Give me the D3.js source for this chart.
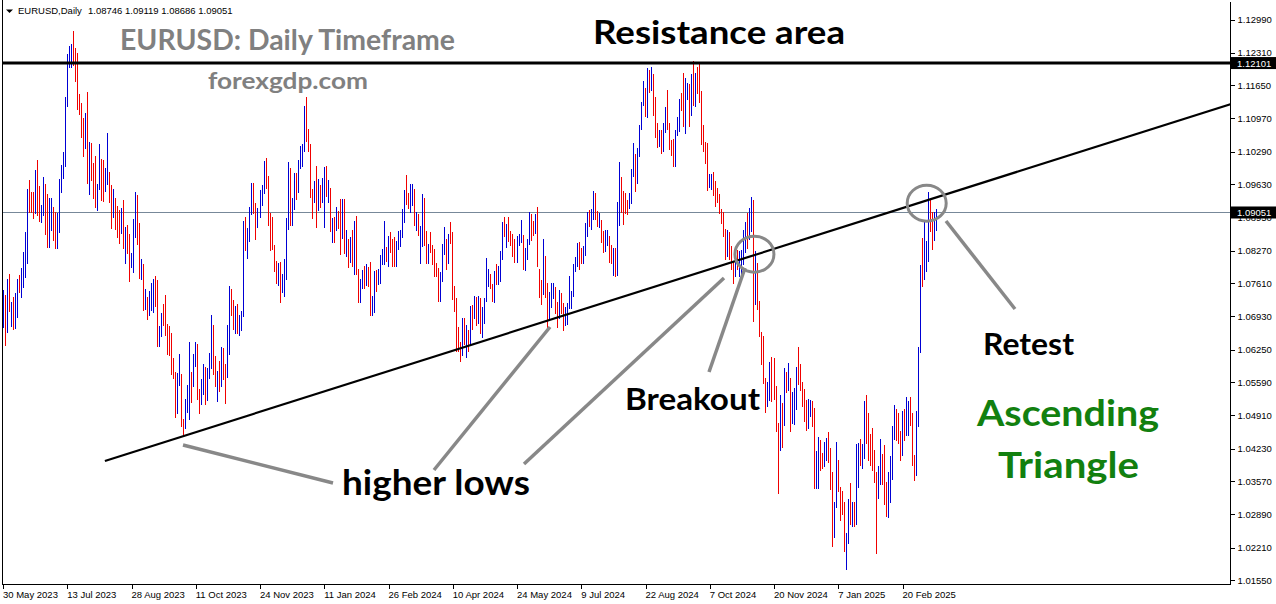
<!DOCTYPE html>
<html lang="en">

<head>
  <meta charset="utf-8">
  <title>EURUSD Daily | Ascending Triangle</title>
  <script src="https://d3js.org/d3.v7.min.js"></script>
  <style>
    body {
      margin: 0;
      background: #fff;
    }

    svg {
      display: block;
    }

    .axis text {
      font-family: "Liberation Sans", Arial, sans-serif;
      font-size: 9.5px;
      fill: #000;
    }

    .axis line {
      stroke: #000;
      shape-rendering: crispEdges;
    }

    .note {
      font-family: Lato, "Open Sans", sans-serif;
      font-weight: bold;
    }
  </style>
</head>

<body>
  <script>
    var w = 1276;
    var h = 604;

    // daily bars, one per trading day, first bar = 30 May 2023, last = 17 Mar 2025
    var highs = [
      // May/Jun 2023
      1.0747, 1.0737, 1.0770, 1.0780, 1.0722, 1.0733, 1.0741, 1.0770, 1.0778, 1.0792, 1.0825, 1.0866, 1.0953, 1.0971, 1.0947, 1.0947, 1.0992, 1.1012, 1.0959, 1.0920, 1.0977, 1.0963, 1.0943, 1.0935,
      // Jul
      1.0935, 1.0916, 1.0906, 1.0904, 1.0973, 1.1002, 1.1028, 1.1140, 1.1228, 1.1245, 1.1249, 1.1276, 1.1241, 1.1231, 1.1147, 1.1129, 1.1098, 1.1108, 1.1151, 1.1049, 1.1047,
      // Aug
      1.1006, 1.1020, 1.0963, 1.1045, 1.1014, 1.1012, 1.0996, 1.1067, 1.0988, 1.0961, 1.0953, 1.0935, 1.0919, 1.0910, 1.0914, 1.0931, 1.0876, 1.0880, 1.0862, 1.0823, 1.0892, 1.0947, 1.0941,
      // Sep
      1.0884, 1.0810, 1.0800, 1.0749, 1.0733, 1.0745, 1.0761, 1.0769, 1.0775, 1.0768, 1.0674, 1.0699, 1.0718, 1.0737, 1.0677, 1.0673, 1.0659, 1.0609, 1.0580, 1.0577, 1.0617,
      // Oct
      1.0576, 1.0484, 1.0525, 1.0554, 1.0640, 1.0580, 1.0616, 1.0640, 1.0637, 1.0544, 1.0565, 1.0596, 1.0590, 1.0588, 1.0619, 1.0695, 1.0675, 1.0613, 1.0582, 1.0601, 1.0630, 1.0628,
      // Nov
      1.0595, 1.0676, 1.0756, 1.0748, 1.0727, 1.0714, 1.0719, 1.0696, 1.0705, 1.0888, 1.0895, 1.0873, 1.0917, 1.0965, 1.0965, 1.0925, 1.0914, 1.0950, 1.0962, 1.1010, 1.1017, 1.0980,
      // Dec
      1.0904, 1.0896, 1.0838, 1.0806, 1.0801, 1.0805, 1.0780, 1.0810, 1.0894, 1.1009, 1.0995, 1.0935, 1.0985, 1.0985, 1.1012, 1.1040, 1.1045, 1.1123, 1.1140, 1.1075,
      // Jan 2024
      1.1045, 1.0954, 1.0969, 1.0999, 1.0973, 1.0961, 1.0975, 1.0998, 1.0999, 1.0972, 1.0955, 1.0893, 1.0895, 1.0916, 1.0908, 1.0932, 1.0932, 1.0933, 1.0870, 1.0850, 1.0855, 1.0870,
      // Feb
      1.0888, 1.0897, 1.0790, 1.0770, 1.0787, 1.0795, 1.0799, 1.0793, 1.0805, 1.0735, 1.0786, 1.0788, 1.0790, 1.0819, 1.0830, 1.0888, 1.0835, 1.0857, 1.0865, 1.0852, 1.0855,
      // Mar
      1.0846, 1.0868, 1.0870, 1.0912, 1.0951, 1.0981, 1.0945, 1.0963, 1.0963, 1.0953, 1.0906, 1.0902, 1.0877, 1.0942, 1.0935, 1.0867, 1.0841, 1.0865, 1.0838, 1.0830, 1.0803,
      // Apr
      1.0791, 1.0783, 1.0840, 1.0876, 1.0850, 1.0862, 1.0885, 1.0865, 1.0756, 1.0730, 1.0672, 1.0641, 1.0690, 1.0690, 1.0676, 1.0666, 1.0714, 1.0716, 1.0735, 1.0732, 1.0735, 1.0730,
      // May
      1.0713, 1.0730, 1.0812, 1.0790, 1.0780, 1.0760, 1.0785, 1.0800, 1.0795, 1.0826, 1.0886, 1.0895, 1.0882, 1.0895, 1.0868, 1.0861, 1.0852, 1.0858, 1.0862, 1.0889, 1.0860, 1.0832, 1.0852,
      // Jun
      1.0906, 1.0903, 1.0888, 1.0902, 1.0916, 1.0790, 1.0767, 1.0852, 1.0816, 1.0762, 1.0743, 1.0761, 1.0761, 1.0753, 1.0722, 1.0747, 1.0740, 1.0721, 1.0712, 1.0720,
      // Jul
      1.0776, 1.0745, 1.0800, 1.0815, 1.0843, 1.0845, 1.0833, 1.0837, 1.0883, 1.0907, 1.0910, 1.0912, 1.0948, 1.0944, 1.0909, 1.0904, 1.0890, 1.0868, 1.0869, 1.0870, 1.0858, 1.0838, 1.0832,
      // Aug
      1.0832, 1.0926, 1.1009, 1.0977, 1.0949, 1.0944, 1.0930, 1.0944, 1.0994, 1.1047, 1.1025, 1.1037, 1.1084, 1.1130, 1.1174, 1.1160, 1.1201, 1.1195, 1.1202, 1.1188, 1.1140, 1.1087,
      // Sep
      1.1073, 1.1073, 1.1087, 1.1120, 1.1155, 1.1088, 1.1054, 1.1056, 1.1074, 1.1101, 1.1136, 1.1148, 1.1190, 1.1180, 1.1170, 1.1168, 1.1188, 1.1214, 1.1189, 1.1202, 1.1209,
      // Oct
      1.1154, 1.1084, 1.1048, 1.1046, 1.0984, 1.0984, 1.0987, 1.0969, 1.0955, 1.0943, 1.0912, 1.0906, 1.0871, 1.0869, 1.0866, 1.0836, 1.0804, 1.0830, 1.0829, 1.0826, 1.0828, 1.0870, 1.0885,
      // Nov
      1.0905, 1.0914, 1.0937, 1.0931, 1.0826, 1.0802, 1.0725, 1.0661, 1.0652, 1.0568, 1.0560, 1.0600, 1.0610, 1.0608, 1.0550, 1.0475, 1.0532, 1.0516, 1.0587, 1.0580, 1.0597,
      // Dec
      1.0567, 1.0538, 1.0546, 1.0590, 1.0630, 1.0595, 1.0559, 1.0545, 1.0523, 1.0524, 1.0523, 1.0521, 1.0507, 1.0418, 1.0446, 1.0440, 1.0415, 1.0437, 1.0444, 1.0457, 1.0425,
      // Jan 2025
      1.0375, 1.0314, 1.0437, 1.0400, 1.0345, 1.0336, 1.0315, 1.0250, 1.0320, 1.0353, 1.0315, 1.0315, 1.0433, 1.0435, 1.0442, 1.0433, 1.0521, 1.0533, 1.0495, 1.0452, 1.0465, 1.0420,
      // Feb
      1.0375, 1.0388, 1.0442, 1.0412, 1.0431, 1.0356, 1.0375, 1.0409, 1.0470, 1.0513, 1.0505, 1.0495, 1.0460, 1.0500, 1.0505, 1.0528, 1.0520, 1.0528, 1.0496, 1.0410,
      // Mar
      1.0500, 1.0630, 1.0797, 1.0854, 1.0888, 1.0846, 1.0947, 1.0930, 1.0906, 1.0907, 1.0912
    ];

    var lows = [
      1.0671, 1.0635, 1.0662, 1.0704, 1.0673, 1.0667, 1.0669, 1.0692, 1.0743, 1.0733, 1.0754, 1.0774, 1.0802, 1.0906, 1.0906, 1.0894, 1.0904, 1.0900, 1.0888, 1.0886, 1.0900, 1.0862, 1.0835, 1.0835,
      1.0870, 1.0849, 1.0833, 1.0833, 1.0865, 1.0947, 1.0975, 1.0999, 1.1122, 1.1202, 1.1202, 1.1206, 1.1173, 1.1116, 1.1106, 1.1059, 1.1020, 1.1037, 1.0966, 1.0943, 1.0972,
      1.0935, 1.0917, 1.0911, 1.0953, 1.0931, 1.0929, 1.0949, 1.0963, 1.0927, 1.0874, 1.0896, 1.0872, 1.0855, 1.0843, 1.0864, 1.0833, 1.0802, 1.0823, 1.0765, 1.0793, 1.0784, 1.0855, 1.0841,
      1.0771, 1.0769, 1.0706, 1.0708, 1.0688, 1.0696, 1.0706, 1.0702, 1.0714, 1.0633, 1.0632, 1.0653, 1.0675, 1.0655, 1.0616, 1.0615, 1.0575, 1.0568, 1.0488, 1.0496, 1.0552,
      1.0469, 1.0448, 1.0466, 1.0497, 1.0483, 1.0518, 1.0550, 1.0592, 1.0525, 1.0496, 1.0515, 1.0534, 1.0515, 1.0523, 1.0567, 1.0587, 1.0576, 1.0550, 1.0520, 1.0540, 1.0550, 1.0565,
      1.0516, 1.0569, 1.0616, 1.0695, 1.0667, 1.0660, 1.0660, 1.0656, 1.0665, 1.0694, 1.0828, 1.0812, 1.0846, 1.0902, 1.0905, 1.0852, 1.0875, 1.0896, 1.0921, 1.0945, 1.0955, 1.0880,
      1.0828, 1.0830, 1.0785, 1.0762, 1.0757, 1.0723, 1.0743, 1.0735, 1.0770, 1.0871, 1.0880, 1.0880, 1.0912, 1.0933, 1.0946, 1.0996, 1.1000, 1.1030, 1.1050, 1.1030,
      1.0937, 1.0893, 1.0927, 1.0876, 1.0911, 1.0917, 1.0927, 1.0875, 1.0939, 1.0927, 1.0867, 1.0845, 1.0845, 1.0870, 1.0873, 1.0821, 1.0853, 1.0822, 1.0816, 1.0794, 1.0805, 1.0795,
      1.0780, 1.0780, 1.0723, 1.0722, 1.0750, 1.0750, 1.0758, 1.0756, 1.0696, 1.0695, 1.0701, 1.0745, 1.0760, 1.0761, 1.0800, 1.0800, 1.0807, 1.0796, 1.0825, 1.0796, 1.0795,
      1.0795, 1.0830, 1.0837, 1.0855, 1.0886, 1.0923, 1.0915, 1.0906, 1.0920, 1.0880, 1.0870, 1.0860, 1.0802, 1.0837, 1.0838, 1.0802, 1.0802, 1.0825, 1.0800, 1.0775, 1.0775,
      1.0725, 1.0724, 1.0765, 1.0820, 1.0790, 1.0803, 1.0842, 1.0728, 1.0704, 1.0622, 1.0622, 1.0601, 1.0615, 1.0637, 1.0610, 1.0623, 1.0635, 1.0668, 1.0690, 1.0675, 1.0680, 1.0660,
      1.0650, 1.0680, 1.0725, 1.0756, 1.0750, 1.0725, 1.0723, 1.0760, 1.0760, 1.0765, 1.0811, 1.0857, 1.0835, 1.0847, 1.0838, 1.0817, 1.0805, 1.0805, 1.0838, 1.0845, 1.0790, 1.0788, 1.0810,
      1.0840, 1.0848, 1.0860, 1.0864, 1.0795, 1.0733, 1.0718, 1.0738, 1.0732, 1.0668, 1.0690, 1.0712, 1.0730, 1.0700, 1.0671, 1.0690, 1.0700, 1.0666, 1.0675, 1.0678,
      1.0710, 1.0710, 1.0734, 1.0785, 1.0795, 1.0790, 1.0801, 1.0801, 1.0818, 1.0858, 1.0878, 1.0872, 1.0891, 1.0892, 1.0877, 1.0875, 1.0844, 1.0825, 1.0826, 1.0839, 1.0805, 1.0801, 1.0778,
      1.0776, 1.0778, 1.0880, 1.0906, 1.0881, 1.0905, 1.0903, 1.0915, 1.0925, 1.0980, 1.0948, 1.0965, 1.1020, 1.1075, 1.1125, 1.1103, 1.1100, 1.1151, 1.1155, 1.1105, 1.1059, 1.1039,
      1.1040, 1.1026, 1.1031, 1.1070, 1.1075, 1.1035, 1.1023, 1.1001, 1.1000, 1.1064, 1.1071, 1.1115, 1.1081, 1.1068, 1.1136, 1.1082, 1.1104, 1.1125, 1.1122, 1.1148, 1.1130,
      1.1045, 1.1031, 1.1006, 1.0952, 1.0957, 1.0954, 1.0940, 1.0918, 1.0926, 1.0905, 1.0883, 1.0858, 1.0811, 1.0817, 1.0810, 1.0790, 1.0761, 1.0776, 1.0790, 1.0775, 1.0775, 1.0799, 1.0825,
      1.0832, 1.0852, 1.0867, 1.0683, 1.0718, 1.0708, 1.0652, 1.0595, 1.0558, 1.0497, 1.0510, 1.0522, 1.0520, 1.0525, 1.0460, 1.0333, 1.0420, 1.0426, 1.0471, 1.0538, 1.0542,
      1.0460, 1.0475, 1.0474, 1.0504, 1.0555, 1.0542, 1.0510, 1.0480, 1.0461, 1.0466, 1.0490, 1.0470, 1.0342, 1.0343, 1.0343, 1.0380, 1.0384, 1.0387, 1.0400, 1.0395, 1.0340,
      1.0225, 1.0243, 1.0305, 1.0337, 1.0277, 1.0290, 1.0215, 1.0178, 1.0230, 1.0270, 1.0265, 1.0266, 1.0270, 1.0345, 1.0390, 1.0384, 1.0403, 1.0435, 1.0400, 1.0390, 1.0380, 1.0355,
      1.0210, 1.0322, 1.0350, 1.0350, 1.0310, 1.0285, 1.0283, 1.0315, 1.0362, 1.0442, 1.0440, 1.0435, 1.0400, 1.0410, 1.0440, 1.0450, 1.0450, 1.0472, 1.0390, 1.0360,
      1.0370, 1.0470, 1.0620, 1.0755, 1.0770, 1.0786, 1.0806, 1.0867, 1.0830, 1.0848, 1.0869
    ];

    var closes = [
      1.0737, 1.0689, 1.0763, 1.0708, 1.0712, 1.0693, 1.0697, 1.0767, 1.0749, 1.0754, 1.0791, 1.0832, 1.0944, 1.0939, 1.0924, 1.0916, 1.0989, 1.0955, 1.0895, 1.0904, 1.0960, 1.0912, 1.0866, 1.0910,
      1.0912, 1.0883, 1.0854, 1.0888, 1.0967, 1.0970, 1.1009, 1.1130, 1.1226, 1.1228, 1.1236, 1.1228, 1.1200, 1.1128, 1.1124, 1.1064, 1.1056, 1.1086, 1.0976, 1.1016, 1.0996,
      1.0985, 1.0937, 1.0946, 1.1008, 1.1002, 1.0956, 1.0973, 1.0981, 1.0947, 1.0905, 1.0906, 1.0877, 1.0871, 1.0870, 1.0895, 1.0845, 1.0861, 1.0842, 1.0796, 1.0818, 1.0880, 1.0920, 1.0843,
      1.0775, 1.0796, 1.0721, 1.0726, 1.0697, 1.0699, 1.0751, 1.0755, 1.0733, 1.0643, 1.0660, 1.0690, 1.0680, 1.0660, 1.0657, 1.0644, 1.0593, 1.0570, 1.0503, 1.0566, 1.0573,
      1.0477, 1.0468, 1.0505, 1.0549, 1.0587, 1.0565, 1.0605, 1.0620, 1.0530, 1.0509, 1.0560, 1.0575, 1.0545, 1.0580, 1.0595, 1.0670, 1.0590, 1.0565, 1.0566, 1.0565, 1.0615, 1.0575,
      1.0570, 1.0620, 1.0730, 1.0705, 1.0698, 1.0710, 1.0667, 1.0685, 1.0700, 1.0878, 1.0850, 1.0852, 1.0910, 1.0940, 1.0912, 1.0886, 1.0905, 1.0940, 1.0955, 1.0995, 1.0970, 1.0890,
      1.0885, 1.0835, 1.0796, 1.0765, 1.0790, 1.0760, 1.0765, 1.0795, 1.0875, 1.0990, 1.0895, 1.0920, 1.0980, 1.0940, 1.1010, 1.1015, 1.1040, 1.1105, 1.1060, 1.1040,
      1.0940, 1.0920, 1.0945, 1.0940, 1.0950, 1.0930, 1.0970, 1.0975, 1.0950, 1.0952, 1.0875, 1.0885, 1.0875, 1.0895, 1.0885, 1.0855, 1.0885, 1.0840, 1.0850, 1.0830, 1.0845, 1.0815,
      1.0875, 1.0785, 1.0745, 1.0755, 1.0775, 1.0774, 1.0785, 1.0770, 1.0710, 1.0725, 1.0775, 1.0773, 1.0778, 1.0810, 1.0820, 1.0822, 1.0820, 1.0850, 1.0845, 1.0840, 1.0805,
      1.0840, 1.0855, 1.0857, 1.0900, 1.0948, 1.0938, 1.0925, 1.0926, 1.0945, 1.0885, 1.0890, 1.0865, 1.0867, 1.0925, 1.0860, 1.0810, 1.0835, 1.0830, 1.0825, 1.0792, 1.0790,
      1.0741, 1.0770, 1.0835, 1.0837, 1.0835, 1.0860, 1.0855, 1.0742, 1.0727, 1.0641, 1.0626, 1.0617, 1.0672, 1.0643, 1.0655, 1.0653, 1.0704, 1.0697, 1.0730, 1.0693, 1.0719, 1.0666,
      1.0712, 1.0727, 1.0760, 1.0770, 1.0752, 1.0748, 1.0782, 1.0770, 1.0790, 1.0820, 1.0883, 1.0865, 1.0870, 1.0855, 1.0852, 1.0822, 1.0818, 1.0847, 1.0857, 1.0859, 1.0800, 1.0830, 1.0848,
      1.0903, 1.0875, 1.0868, 1.0890, 1.0800, 1.0765, 1.0742, 1.0812, 1.0740, 1.0704, 1.0735, 1.0739, 1.0747, 1.0705, 1.0692, 1.0733, 1.0714, 1.0680, 1.0702, 1.0712,
      1.0738, 1.0742, 1.0792, 1.0808, 1.0840, 1.0824, 1.0814, 1.0830, 1.0868, 1.0907, 1.0894, 1.0898, 1.0937, 1.0898, 1.0884, 1.0891, 1.0848, 1.0845, 1.0846, 1.0856, 1.0820, 1.0817, 1.0825,
      1.0789, 1.0910, 1.0955, 1.0933, 1.0923, 1.0920, 1.0916, 1.0932, 1.0992, 1.1012, 1.0969, 1.1027, 1.1080, 1.1130, 1.1152, 1.1115, 1.1193, 1.1160, 1.1183, 1.1120, 1.1077, 1.1048,
      1.1066, 1.1043, 1.1084, 1.1110, 1.1085, 1.1040, 1.1025, 1.1012, 1.1072, 1.1075, 1.1131, 1.1118, 1.1116, 1.1160, 1.1163, 1.1111, 1.1180, 1.1131, 1.1175, 1.1164, 1.1134,
      1.1068, 1.1046, 1.1032, 1.0974, 1.0975, 1.0979, 1.0942, 1.0937, 1.0935, 1.0910, 1.0890, 1.0860, 1.0832, 1.0866, 1.0816, 1.0797, 1.0780, 1.0826, 1.0797, 1.0816, 1.0818, 1.0856, 1.0883,
      1.0835, 1.0880, 1.0930, 1.0730, 1.0800, 1.0720, 1.0655, 1.0620, 1.0565, 1.0530, 1.0540, 1.0595, 1.0593, 1.0545, 1.0470, 1.0415, 1.0495, 1.0490, 1.0570, 1.0565, 1.0577,
      1.0500, 1.0510, 1.0511, 1.0585, 1.0565, 1.0555, 1.0527, 1.0497, 1.0467, 1.0500, 1.0510, 1.0490, 1.0350, 1.0365, 1.0430, 1.0405, 1.0404, 1.0420, 1.0426, 1.0405, 1.0355,
      1.0265, 1.0307, 1.0390, 1.0340, 1.0320, 1.0300, 1.0244, 1.0245, 1.0310, 1.0290, 1.0300, 1.0275, 1.0415, 1.0430, 1.0405, 1.0415, 1.0495, 1.0493, 1.0430, 1.0420, 1.0390, 1.0360,
      1.0345, 1.0380, 1.0400, 1.0380, 1.0330, 1.0305, 1.0360, 1.0385, 1.0465, 1.0490, 1.0485, 1.0445, 1.0420, 1.0500, 1.0460, 1.0465, 1.0515, 1.0485, 1.0400, 1.0375,
      1.0485, 1.0625, 1.0790, 1.0785, 1.0835, 1.0836, 1.0920, 1.0890, 1.0855, 1.0880, 1.0905
    ];

    // one date label every 32 bars
    var dateLabels = ["30 May 2023", "13 Jul 2023", "28 Aug 2023", "11 Oct 2023", "24 Nov 2023",
      "11 Jan 2024", "26 Feb 2024", "10 Apr 2024", "24 May 2024", "9 Jul 2024", "22 Aug 2024",
      "7 Oct 2024", "20 Nov 2024", "7 Jan 2025", "20 Feb 2025"];
    var labelStep = 32;

    var priceTicks = [1.12990, 1.12310, 1.11650, 1.10970, 1.10290, 1.09630, 1.08950, 1.08270,
      1.07610, 1.06930, 1.06250, 1.05590, 1.04910, 1.04230, 1.03570, 1.02890, 1.02210, 1.01550];

    var resistance = 1.12101;
    var lastPrice = 1.09051;
    var header = ["EURUSD,Daily", "1.08746 1.09119 1.08686 1.09051"];

    // trendline anchors: [bar index, price]
    var trendline = [[51, 1.0398], [613, 1.1128]];
    // highlight circles: [bar index, price]
    var circles = [[374.5, 1.0820], [460.3, 1.0924]];

    //Scales
    var plotRight = 1230;
    var plotBottom = 584;

    var xScale = d3.scaleLinear()
      .domain([0, 448])
      .range([2.5, 902]);

    var yScale = d3.scaleLinear()
      .domain([1.01550, 1.12990])
      .range([580, 19.5]);

    var svg = d3.select("body")
      .append("svg")
      .attr("width", w)
      .attr("height", h);

    svg.append("defs").append("clipPath")
      .attr("id", "plot")
      .append("rect")
      .attr("x", 2)
      .attr("y", 1)
      .attr("width", plotRight - 2)
      .attr("height", plotBottom - 1);

    var plot = svg.append("g").attr("clip-path", "url(#plot)");

    //current price line
    plot.append("line")
      .attr("x1", 2)
      .attr("x2", plotRight)
      .attr("y1", Math.round(yScale(lastPrice)) + 0.5)
      .attr("y2", Math.round(yScale(lastPrice)) + 0.5)
      .attr("stroke", "#778899")
      .attr("stroke-width", 1);

    //bars
    plot.append("g")
      .selectAll("line")
      .data(highs)
      .enter()
      .append("line")
      .attr("x1", function (d, i) { return Math.round(xScale(i)) + 0.5; })
      .attr("x2", function (d, i) { return Math.round(xScale(i)) + 0.5; })
      .attr("y1", function (d) { return Math.round(yScale(d)); })
      .attr("y2", function (d, i) { return Math.round(yScale(lows[i])) + 1; })
      .attr("stroke", function (d, i) {
        var prev = i ? closes[i - 1] : closes[i];
        return closes[i] >= prev ? "#0000d4" : "#f00000";
      })
      .attr("stroke-width", 1)
      .attr("shape-rendering", "crispEdges");

    //resistance line
    plot.append("line")
      .attr("x1", 2)
      .attr("x2", plotRight)
      .attr("y1", yScale(resistance))
      .attr("y2", yScale(resistance))
      .attr("stroke", "#000")
      .attr("stroke-width", 3);

    //trendline
    var tl = d3.line()
      .x(function (d) { return xScale(d[0]); })
      .y(function (d) { return yScale(d[1]); });

    plot.append("path")
      .datum(trendline)
      .attr("d", tl)
      .attr("fill", "none")
      .attr("stroke", "#000")
      .attr("stroke-width", 2.2);

    //circles
    plot.selectAll("ellipse")
      .data(circles)
      .enter()
      .append("ellipse")
      .attr("cx", function (d) { return xScale(d[0]); })
      .attr("cy", function (d) { return yScale(d[1]); })
      .attr("rx", 19.5)
      .attr("ry", 18)
      .attr("fill", "none")
      .attr("stroke", "#888")
      .attr("stroke-width", 3);

    //frame
    svg.append("path")
      .attr("d", "M2.5,0V" + (plotBottom + 0.5) + "H" + (plotRight + 0.5) + "V1.5")
      .attr("fill", "none")
      .attr("stroke", "#000")
      .attr("stroke-width", 1)
      .attr("shape-rendering", "crispEdges");

    //price axis
    var yAxis = d3.axisRight(yScale)
      .tickValues(priceTicks)
      .tickSize(4)
      .tickPadding(3)
      .tickFormat(d3.format(".5f"));

    var ya = svg.append("g")
      .attr("class", "axis")
      .attr("transform", "translate(" + (plotRight + 0.5) + ",0)")
      .call(yAxis);
    ya.select(".domain").remove();

    //marked prices on the price axis
    [resistance, lastPrice].forEach(function (p) {
      var g = svg.append("g")
        .attr("class", "axis")
        .attr("transform", "translate(" + (plotRight + 1) + "," + yScale(p) + ")");
      g.append("rect")
        .attr("x", 0)
        .attr("y", -6)
        .attr("width", w - plotRight)
        .attr("height", 12)
        .attr("fill", "#000");
      g.append("text")
        .attr("x", 6)
        .attr("y", 3.5)
        .style("fill", "#fff")
        .text(d3.format(".5f")(p));
    });

    //date axis
    var xAxis = d3.axisBottom(xScale)
      .tickValues(dateLabels.map(function (d, k) { return k * labelStep; }))
      .tickSize(4)
      .tickFormat(function (d, k) { return dateLabels[k]; });

    var xa = svg.append("g")
      .attr("class", "axis")
      .attr("transform", "translate(0," + (plotBottom + 0.5) + ")")
      .call(xAxis);
    xa.select(".domain").remove();
    xa.selectAll(".tick line").attr("transform", "translate(0.5,0)");
    xa.selectAll(".tick text")
      .attr("text-anchor", "start")
      .attr("x", 0)
      .attr("y", 7)
      .attr("dy", "0.71em");

    //header
    svg.append("path")
      .attr("d", "M6,9.5H13L9.5,13Z")
      .attr("fill", "#000");
    svg.append("text")
      .attr("class", "axis")
      .attr("x", 18)
      .attr("y", 14)
      .style("font-family", "Liberation Sans, Arial, sans-serif")
      .style("font-size", "9.5px")
      .text(header[0]);
    svg.append("text")
      .attr("x", 88)
      .attr("y", 14)
      .style("font-family", "Liberation Sans, Arial, sans-serif")
      .style("font-size", "9.5px")
      .text(header[1]);

    //annotations
    var notes = [
      { text: "EURUSD: Daily Timeframe", x: 120, y: 50, size: 28, width: 335, color: "#808080" },
      { text: "forexgdp.com", x: 208, y: 89, size: 23, width: 160, color: "#808080" },
      { text: "Resistance area", x: 593, y: 44, size: 33, width: 252, color: "#000" },
      { text: "Retest", x: 983, y: 355, size: 30, width: 91, color: "#000" },
      { text: "Breakout", x: 625, y: 410, size: 30, width: 135, color: "#000" },
      { text: "higher lows", x: 342, y: 495, size: 34, width: 188, color: "#000" },
      { text: "Ascending", x: 977, y: 426, size: 37, width: 182, color: "#12800f" },
      { text: "Triangle", x: 998, y: 478, size: 37, width: 141, color: "#12800f" }
    ];

    svg.selectAll("text.note")
      .data(notes)
      .enter()
      .append("text")
      .attr("class", "note")
      .attr("x", function (d) { return d.x; })
      .attr("y", function (d) { return d.y; })
      .attr("textLength", function (d) { return d.width; })
      .attr("lengthAdjust", "spacingAndGlyphs")
      .style("font-size", function (d) { return d.size + "px"; })
      .style("fill", function (d) { return d.color; })
      .text(function (d) { return d.text; });

    // pointer strokes from the labels
    var pointers = [[183, 445, 333, 483], [434, 470, 550, 327], [524, 464, 724, 278],
      [709, 372, 745, 268], [1015, 309, 946, 221]];

    svg.selectAll("line.pointer")
      .data(pointers)
      .enter()
      .append("line")
      .attr("class", "pointer")
      .attr("x1", function (d) { return d[0]; })
      .attr("y1", function (d) { return d[1]; })
      .attr("x2", function (d) { return d[2]; })
      .attr("y2", function (d) { return d[3]; })
      .attr("stroke", "#888")
      .attr("stroke-width", 3.5);
  </script>
</body>

</html>
